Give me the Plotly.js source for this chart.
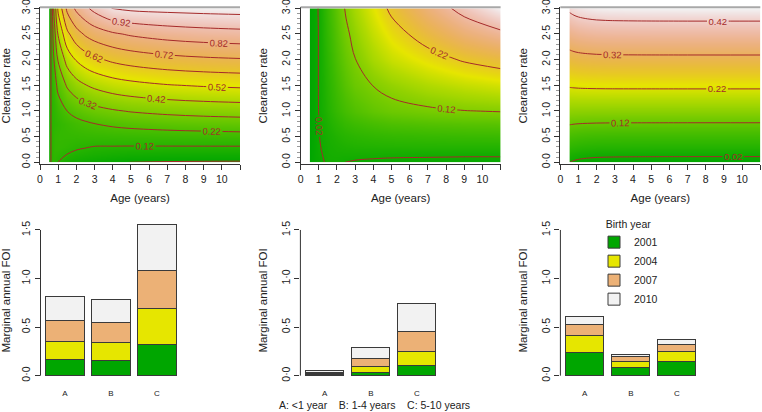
<!DOCTYPE html>
<html><head><meta charset="utf-8">
<script src="https://cdn.plot.ly/plotly-3.0.1.min.js"></script>
<style>html,body{margin:0;padding:0;background:#fff}#chart{width:762px;height:412px}</style>
</head><body><div id="chart"></div>
<script>
// ---------- data: surfaces (rows = clearance rate, columns = age) ----------
const ages = [0.5, 0.62, 0.75, 1, 1.5, 2, 2.5, 3, 4, 5, 7, 9, 11];
const clearance = [0, 0.15, 0.3, 0.5, 0.75, 1, 1.5, 2, 2.5, 3];

const surfaceLeft = [
  [0.06, 0.13, 0.14, 0.118, 0.085, 0.065, 0.054, 0.045, 0.03, 0.019, 0.015, 0.013, 0.012],
  [0.06, 0.13, 0.145, 0.14, 0.118, 0.105, 0.097, 0.09, 0.08, 0.073, 0.068, 0.066, 0.065],
  [0.06, 0.13, 0.15, 0.155, 0.145, 0.13, 0.124, 0.117, 0.116, 0.115, 0.115, 0.115, 0.115],
  [0.06, 0.13, 0.15, 0.158, 0.16, 0.162, 0.165, 0.167, 0.171, 0.174, 0.179, 0.183, 0.187],
  [0.06, 0.13, 0.14, 0.152, 0.176, 0.194, 0.207, 0.219, 0.235, 0.246, 0.26, 0.269, 0.275],
  [0.06, 0.13, 0.145, 0.175, 0.221, 0.251, 0.272, 0.289, 0.311, 0.326, 0.344, 0.355, 0.362],
  [0.06, 0.13, 0.172, 0.244, 0.332, 0.383, 0.416, 0.44, 0.472, 0.491, 0.515, 0.528, 0.537],
  [0.06, 0.13, 0.212, 0.33, 0.459, 0.528, 0.571, 0.601, 0.638, 0.661, 0.688, 0.703, 0.712],
  [0.06, 0.13, 0.262, 0.43, 0.598, 0.682, 0.733, 0.766, 0.807, 0.832, 0.861, 0.877, 0.887],
  [0.06, 0.13, 0.32, 0.541, 0.745, 0.841, 0.9, 0.95, 1.025, 1.04, 1.05, 1.057, 1.062]
];
const surfaceMiddle = [
  [0.003, 0.006, 0.01, 0.012, 0.025, 0.024, 0.0195, 0.017, 0.014, 0.012, 0.011, 0.01, 0.01],
  [0.003, 0.006, 0.01, 0.016, 0.026, 0.028, 0.028, 0.028, 0.027, 0.026, 0.025, 0.024, 0.024],
  [0.003, 0.006, 0.01, 0.018, 0.027, 0.032, 0.035, 0.037, 0.038, 0.039, 0.04, 0.04, 0.04],
  [0.003, 0.006, 0.01, 0.019, 0.03, 0.038, 0.044, 0.048, 0.053, 0.056, 0.059, 0.061, 0.062],
  [0.003, 0.006, 0.01, 0.0195, 0.035, 0.048, 0.058, 0.065, 0.074, 0.08, 0.085, 0.088, 0.09],
  [0.003, 0.006, 0.01, 0.0205, 0.04, 0.058, 0.072, 0.082, 0.096, 0.105, 0.113, 0.119, 0.122],
  [0.003, 0.006, 0.01, 0.021, 0.045, 0.068, 0.088, 0.103, 0.121, 0.135, 0.155, 0.169, 0.179],
  [0.003, 0.006, 0.01, 0.021, 0.05, 0.078, 0.1, 0.119, 0.15, 0.172, 0.2, 0.225, 0.242],
  [0.003, 0.006, 0.01, 0.021, 0.055, 0.085, 0.112, 0.133, 0.17, 0.2, 0.243, 0.283, 0.309],
  [0.003, 0.006, 0.01, 0.022, 0.06, 0.093, 0.125, 0.148, 0.19, 0.23, 0.287, 0.338, 0.379]
];
const surfaceRight = [
  [0.021, 0.0175, 0.015, 0.0117, 0.008, 0.0058, 0.0048, 0.0043, 0.0038, 0.0035, 0.0034, 0.0033, 0.0033],
  [0.0406, 0.0384, 0.0362, 0.0333, 0.0301, 0.0282, 0.0274, 0.027, 0.0265, 0.0263, 0.0261, 0.026, 0.026],
  [0.0611, 0.0592, 0.0574, 0.0549, 0.0522, 0.0506, 0.0499, 0.0495, 0.0491, 0.0489, 0.0488, 0.0488, 0.0488],
  [0.0885, 0.0871, 0.0857, 0.0838, 0.0817, 0.0805, 0.0799, 0.0796, 0.0793, 0.0792, 0.0791, 0.0791, 0.0791],
  [0.1228, 0.1219, 0.121, 0.1198, 0.1186, 0.1178, 0.1175, 0.1173, 0.1171, 0.117, 0.1169, 0.1169, 0.1169],
  [0.157, 0.1567, 0.1563, 0.1559, 0.1554, 0.1551, 0.155, 0.1549, 0.1549, 0.1548, 0.1548, 0.1548, 0.1548],
  [0.2255, 0.2263, 0.227, 0.2281, 0.2292, 0.2298, 0.2301, 0.2303, 0.2304, 0.2305, 0.2306, 0.2306, 0.2306],
  [0.294, 0.2958, 0.2977, 0.3002, 0.3029, 0.3045, 0.3052, 0.3056, 0.3059, 0.3061, 0.3062, 0.3063, 0.3063],
  [0.3625, 0.3654, 0.3684, 0.3723, 0.3766, 0.3791, 0.3803, 0.3809, 0.3815, 0.3818, 0.382, 0.382, 0.382],
  [0.431, 0.435, 0.439, 0.4444, 0.4503, 0.4538, 0.4554, 0.4562, 0.457, 0.4574, 0.4577, 0.4578, 0.4578]
];

const ageTicks = [0, 1, 2, 3, 4, 5, 6, 7, 8, 9, 10, 11];
const ageTickText = ['0', '1', '2', '3', '4', '5', '6', '7', '8', '9', '10', ''];
const clearTicks = [0, 0.5, 1, 1.5, 2, 2.5, 3];
const clearTickText = ['0·0', '0·5', '1·0', '1·5', '2·0', '2·5', '3·0'];

// ---------- data: marginal annual FOI bars ----------
const ageGroups = ['A', 'B', 'C'];
const birthYears = ['2001', '2004', '2007', '2010'];
const barsLeft = [   // per birth year, values for A, B, C
  [0.168, 0.158, 0.316],
  [0.186, 0.185, 0.371],
  [0.219, 0.206, 0.398],
  [0.244, 0.237, 0.467]
];
const barsMiddle = [
  [0.010, 0.034, 0.106],
  [0.010, 0.059, 0.145],
  [0.013, 0.086, 0.209],
  [0.017, 0.113, 0.288]
];
const barsRight = [
  [0.240, 0.086, 0.151],
  [0.169, 0.058, 0.100],
  [0.120, 0.052, 0.068],
  [0.079, 0.024, 0.052]
];
const foiTicks = [0, 0.5, 1, 1.5];
const foiTickText = ['0·0', '0·5', '1·0', '1·5'];
const groupNote = 'A: &lt;1 year\u00a0\u00a0\u00a0\u00a0B: 1-4 years\u00a0\u00a0\u00a0\u00a0C: 5-10 years';

// ---------- styling ----------
const FONT = 'Liberation Sans, Arial, Helvetica, sans-serif';
const TXT = '#222';
const yearColors = ['#00A600', '#E6E600', '#ECB176', '#F2F2F2'];
const lineRed = '#A52A2A';

function hsv2rgb(h, s, v) {
  const i = Math.floor(h * 6), f = h * 6 - i;
  const p = v * (1 - s), q = v * (1 - f * s), t = v * (1 - (1 - f) * s);
  let r, g, b;
  switch (((i % 6) + 6) % 6) {
    case 0: r = v; g = t; b = p; break;
    case 1: r = q; g = v; b = p; break;
    case 2: r = p; g = v; b = t; break;
    case 3: r = p; g = q; b = v; break;
    case 4: r = t; g = p; b = v; break;
    default: r = v; g = p; b = q;
  }
  return 'rgb(' + Math.round(r * 255) + ',' + Math.round(g * 255) + ',' + Math.round(b * 255) + ')';
}
function terrainScale(n) {
  const out = [];
  for (let i = 0; i <= n; i++) {
    const t = i / n; let h, s, v;
    if (t <= 0.5) { const u = t / 0.5; h = 4 / 12 - (2 / 12) * u; s = 1; v = 0.65 + 0.25 * u; }
    else { const u = (t - 0.5) / 0.5; h = (2 / 12) * (1 - u); s = 1 - u; v = 0.9 + 0.05 * u; }
    out.push([t, hsv2rgb(h, s, v)]);
  }
  return out;
}
const terrain = terrainScale(60);

const surfaces = [surfaceLeft, surfaceMiddle, surfaceRight];
const barSets = [barsLeft, barsMiddle, barsRight];

const traces = [];
surfaces.forEach((z, k) => {
  const flat = z.flat();
  const zmin = Math.min(...flat), zmax = Math.max(...flat);
  const ax = k === 0 ? '' : String(k + 1);
  traces.push({
    type: 'contour', x: ages, y: clearance, z: z,
    xaxis: 'x' + ax, yaxis: 'y' + ax,
    colorscale: terrain, zauto: false, zmin: zmin, zmax: zmax, showscale: false,
    autocontour: false,
    contours: { coloring: 'heatmap', start: 0.02, end: zmax, size: 0.1, showlabels: true,
      labelfont: { family: FONT, size: 9.5, color: lineRed }, labelformat: '.2f' },
    line: { color: lineRed, width: 1, smoothing: 1 },
    hoverinfo: 'skip', showlegend: false
  });
});
barSets.forEach((set, k) => {
  const ax = String(k + 4);
  set.forEach((vals, j) => {
    traces.push({
      type: 'bar', x: ageGroups, y: vals, name: birthYears[j],
      xaxis: 'x' + ax, yaxis: 'y' + ax,
      marker: { color: yearColors[j], line: { color: '#3a3a3a', width: 1 } },
      legendgroup: birthYears[j], showlegend: k === 2, hoverinfo: 'skip'
    });
  });
});

const W = 762, H = 412;
const px = (a, b) => [a / W, b / W];
const py = (top, bottom) => [1 - bottom / H, 1 - top / H];

const topXDom = [px(40, 240), px(300.6, 500.6), px(560.3, 760.3)];
const botXDom = [px(40.5, 181.3), px(300.4, 441.2), px(560.4, 701.2)];
const topYDom = py(7.3, 164.1);
const botYDom = py(219.1, 381.7);

const layout = {
  width: W, height: H, margin: { l: 0, r: 0, t: 0, b: 0 },
  paper_bgcolor: '#fff', plot_bgcolor: 'rgba(0,0,0,0)',
  font: { family: FONT, color: TXT, size: 11 },
  barmode: 'stack', bargap: 0.1667, showlegend: true,
  legend: { x: 594 / W, y: 1 - 214 / H, xanchor: 'left', yanchor: 'top',
    bgcolor: 'rgba(0,0,0,0)', font: { family: FONT, size: 10.5, color: TXT },
    title: { text: 'Birth year', side: 'top center', font: { family: FONT, size: 10.5, color: TXT } },
    traceorder: 'normal', itemwidth: 30 },
  shapes: [], annotations: []
};

for (let k = 0; k < 3; k++) {
  const ax = k === 0 ? '' : String(k + 1);
  layout['xaxis' + ax] = {
    domain: topXDom[k], anchor: 'y' + ax, range: [0, 11], tickmode: 'array',
    tickvals: ageTicks, ticktext: ageTickText, ticks: 'outside', ticklen: 5, tickcolor: '#333',
    showline: true, linecolor: '#333', linewidth: 1, showgrid: false, zeroline: false,
    tickfont: { family: FONT, size: 10.5, color: TXT },
    title: { text: 'Age (years)', font: { family: FONT, size: 11.5, color: TXT }, standoff: 10 },
    fixedrange: true
  };
  layout['yaxis' + ax] = {
    domain: topYDom, anchor: 'x' + ax, range: [-0.035, 3.02], tickmode: 'array',
    tickvals: clearTicks, ticktext: clearTickText, tickangle: -90, ticklabeloverflow: 'allow',
    ticks: 'outside', ticklen: 5, tickcolor: '#333',
    minor: { tickmode: 'linear', tick0: 0, dtick: 0.1, ticks: 'outside', ticklen: 3, tickcolor: '#999', showgrid: false },
    showline: true, linecolor: '#333', linewidth: 1, showgrid: false, zeroline: false,
    tickfont: { family: FONT, size: 10.5, color: TXT },
    title: { text: 'Clearance rate', font: { family: FONT, size: 11.5, color: TXT }, standoff: 10 },
    fixedrange: true
  };
  layout.shapes.push({ type: 'line', xref: 'x' + ax + ' domain', yref: 'y' + ax + ' domain',
    x0: 0, x1: 1, y0: 1, y1: 1, line: { color: '#a8a8a8', width: 2 } });
}
for (let k = 0; k < 3; k++) {
  const ax = String(k + 4);
  layout['xaxis' + ax] = {
    domain: botXDom[k], anchor: 'y' + ax, type: 'category', range: [-0.53, 2.53],
    ticks: 'outside', ticklen: 4, tickcolor: 'rgba(0,0,0,0)', showline: false,
    showgrid: false, zeroline: false, tickfont: { family: FONT, size: 8, color: TXT }, fixedrange: true
  };
  layout['yaxis' + ax] = {
    domain: botYDom, anchor: 'x' + ax, range: [-0.062, 1.612], tickmode: 'array',
    tickvals: foiTicks, ticktext: foiTickText, tickangle: -90,
    ticks: 'outside', ticklen: 5, tickcolor: '#333', showline: false, showgrid: false, zeroline: false,
    tickfont: { family: FONT, size: 10.5, color: TXT },
    title: { text: 'Marginal annual FOI', font: { family: FONT, size: 11.5, color: TXT }, standoff: 10 },
    fixedrange: true
  };
  layout.shapes.push({ type: 'line', xref: 'x' + ax + ' domain', yref: 'y' + ax,
    x0: 0, x1: 0, y0: foiTicks[0], y1: foiTicks[foiTicks.length - 1], line: { color: '#333', width: 1 } });
}
layout.annotations.push({
  xref: 'paper', yref: 'paper', x: 374 / W, y: 1 - 405 / H, xanchor: 'center', yanchor: 'middle',
  text: groupNote, showarrow: false, font: { family: FONT, size: 10.5, color: TXT }
});

Plotly.newPlot('chart', traces, layout, { staticPlot: true, displayModeBar: false });
</script>
</body></html>
